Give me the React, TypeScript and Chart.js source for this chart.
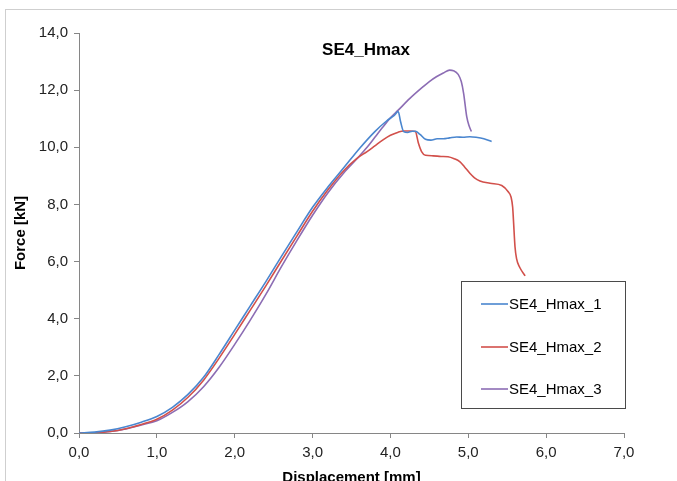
import { useEffect, useRef } from "react";
import { Chart, registerables } from "chart.js";

Chart.register(...registerables);

const chartTitle = "SE4_Hmax";
const xAxisTitle = "Displacement [mm]";
const yAxisTitle = "Force [kN]";
const seriesNames = ["SE4_Hmax_1", "SE4_Hmax_2", "SE4_Hmax_3"];
const seriesColors = ["#4A86CF", "#D2504B", "#8C6DB4"];

const xTickLabels = ["0,0", "1,0", "2,0", "3,0", "4,0", "5,0", "6,0", "7,0"];
const yTickLabels = ["0,0", "2,0", "4,0", "6,0", "8,0", "10,0", "12,0", "14,0"];

const blueX = [0, 0.2, 0.4, 0.6, 0.8, 1.0, 1.2, 1.4, 1.6, 1.8, 2.0, 2.2, 2.4, 2.6, 2.8, 3.0, 3.2, 3.4, 3.6, 3.8, 3.95, 4.05, 4.1, 4.13, 4.17, 4.22, 4.28, 4.32, 4.38, 4.45, 4.52, 4.6, 4.68, 4.76, 4.85, 4.93, 5.02, 5.1, 5.2, 5.3];
const blueY = [0, 0.03, 0.1, 0.22, 0.38, 0.58, 0.9, 1.35, 1.95, 2.75, 3.6, 4.45, 5.3, 6.18, 7.05, 7.9, 8.62, 9.28, 9.95, 10.55, 10.92, 11.12, 11.25, 10.9, 10.55, 10.52, 10.56, 10.56, 10.45, 10.28, 10.25, 10.3, 10.3, 10.33, 10.36, 10.35, 10.37, 10.35, 10.3, 10.2];

const redX = [0, 0.2, 0.4, 0.6, 0.8, 1.0, 1.2, 1.4, 1.6, 1.8, 2.0, 2.2, 2.4, 2.6, 2.8, 3.0, 3.2, 3.4, 3.57, 3.7, 3.8, 3.9, 4.0, 4.1, 4.17, 4.25, 4.32, 4.36, 4.4, 4.45, 4.55, 4.65, 4.74, 4.82, 4.89, 4.95, 5.02, 5.08, 5.15, 5.28, 5.43, 5.51, 5.55, 5.57, 5.58, 5.6, 5.62, 5.66, 5.73];
const redY = [0, 0.01, 0.05, 0.15, 0.3, 0.48, 0.8, 1.25, 1.85, 2.62, 3.45, 4.3, 5.15, 6.03, 6.9, 7.76, 8.52, 9.18, 9.61, 9.85, 10.05, 10.25, 10.42, 10.53, 10.57, 10.57, 10.55, 10.14, 9.85, 9.72, 9.7, 9.68, 9.67, 9.6, 9.5, 9.32, 9.09, 8.93, 8.82, 8.74, 8.66, 8.45, 8.25, 7.9, 7.46, 6.52, 6.1, 5.8, 5.5];

const purpleX = [0, 0.2, 0.4, 0.6, 0.8, 1.0, 1.2, 1.4, 1.6, 1.8, 2.0, 2.2, 2.4, 2.6, 2.8, 3.0, 3.2, 3.4, 3.57, 3.7, 3.8, 3.9, 4.0, 4.1, 4.25, 4.42, 4.5, 4.59, 4.68, 4.76, 4.81, 4.87, 4.91, 4.94, 4.98, 5.01, 5.04];
const purpleY = [0, 0.01, 0.05, 0.14, 0.28, 0.43, 0.72, 1.1, 1.62, 2.3, 3.1, 3.95, 4.85, 5.82, 6.74, 7.62, 8.42, 9.1, 9.6, 10.0, 10.35, 10.7, 11.03, 11.3, 11.71, 12.12, 12.3, 12.47, 12.6, 12.7, 12.68, 12.55, 12.3, 11.89, 11.07, 10.75, 10.55];

const FONT = "'Liberation Sans', Arial, Helvetica, sans-serif";

const toPoints = (xs: number[], ys: number[]) => xs.map((x, i) => ({ x, y: ys[i] }));

const decorPlugin = {
  id: "decor",
  beforeDraw(chart: any) {
    const ctx = chart.ctx;
    ctx.save();
    ctx.fillStyle = "#ffffff";
    ctx.fillRect(0, 0, chart.width, chart.height);
    ctx.strokeStyle = "#cfcfcf";
    ctx.lineWidth = 1;
    ctx.strokeRect(5.5, 9.5, chart.width + 20, chart.height + 20);
    ctx.restore();
  },
  afterDraw(chart: any) {
    const ctx = chart.ctx;
    ctx.save();
    ctx.fillStyle = "#000";
    ctx.font = `bold 17px ${FONT}`;
    ctx.textAlign = "center";
    ctx.textBaseline = "middle";
    ctx.fillText(chartTitle, 366, 50);

    const bx = 461.5, by = 281.5, bw = 164, bh = 127;
    ctx.fillStyle = "#ffffff";
    ctx.fillRect(bx, by, bw, bh);
    ctx.strokeStyle = "#4a4a4a";
    ctx.lineWidth = 1;
    ctx.strokeRect(bx, by, bw, bh);
    const rows = [304, 347, 389];
    chart.data.datasets.forEach((ds: any, i: number) => {
      const y = rows[i];
      ctx.strokeStyle = ds.borderColor;
      ctx.lineWidth = 1.6;
      ctx.beginPath();
      ctx.moveTo(481, y);
      ctx.lineTo(508, y);
      ctx.stroke();
      ctx.fillStyle = "#000";
      ctx.font = `15px ${FONT}`;
      ctx.textAlign = "left";
      ctx.textBaseline = "middle";
      ctx.fillText(ds.label, 509, y + 1);
    });
    ctx.restore();
  },
};

export default function App() {
  const canvasRef = useRef<HTMLCanvasElement | null>(null);

  useEffect(() => {
    if (!canvasRef.current) return;
    const datasets = [
      { label: seriesNames[0], data: toPoints(blueX, blueY), borderColor: seriesColors[0] },
      { label: seriesNames[1], data: toPoints(redX, redY), borderColor: seriesColors[1] },
      { label: seriesNames[2], data: toPoints(purpleX, purpleY), borderColor: seriesColors[2] },
    ].map((d) => ({
      ...d,
      showLine: true,
      fill: false,
      pointRadius: 0,
      borderWidth: 1.6,
      cubicInterpolationMode: "monotone" as const,
    }));

    const axisColor = "#868686";
    const chart = new Chart(canvasRef.current, {
      type: "scatter",
      data: { datasets },
      options: {
        animation: false,
        responsive: true,
        maintainAspectRatio: false,
        layout: { padding: { left: 0, top: 33, right: 53, bottom: 0 } },
        plugins: {
          legend: { display: false },
          title: { display: false },
          tooltip: { enabled: false },
        },
        scales: {
          x: {
            type: "linear",
            min: 0,
            max: 7,
            afterFit: (s: any) => {
              s.height = 48;
            },
            ticks: {
              stepSize: 1,
              autoSkip: false,
              maxRotation: 0,
              padding: 6,
              color: "#222",
              font: { family: FONT, size: 15 },
              callback: (_v: any, i: number) => xTickLabels[i],
            },
            grid: { drawOnChartArea: false, drawTicks: true, tickLength: 5, color: axisColor },
            border: { display: true, color: axisColor, width: 1 },
            title: {
              display: true,
              text: xAxisTitle,
              color: "#000",
              font: { family: FONT, size: 15, weight: "bold" },
              padding: { top: 0, bottom: -6 },
            },
          },
          y: {
            type: "linear",
            min: 0,
            max: 14,
            afterFit: (s: any) => {
              s.width = 79;
            },
            ticks: {
              stepSize: 2,
              autoSkip: false,
              padding: 6,
              color: "#222",
              font: { family: FONT, size: 15 },
              callback: (_v: any, i: number) => yTickLabels[i],
            },
            grid: { drawOnChartArea: false, drawTicks: true, tickLength: 5, color: axisColor },
            border: { display: true, color: axisColor, width: 1 },
            title: {
              display: true,
              text: yAxisTitle,
              color: "#000",
              font: { family: FONT, size: 15, weight: "bold" },
              padding: { top: 12, bottom: 0 },
            },
          },
        },
      },
      plugins: [decorPlugin],
    } as any);
    return () => chart.destroy();
  }, []);

  return (
    <div style={{ position: "absolute", left: 0, top: 0, width: 677, height: 481 }}>
      <canvas ref={canvasRef} />
    </div>
  );
}
